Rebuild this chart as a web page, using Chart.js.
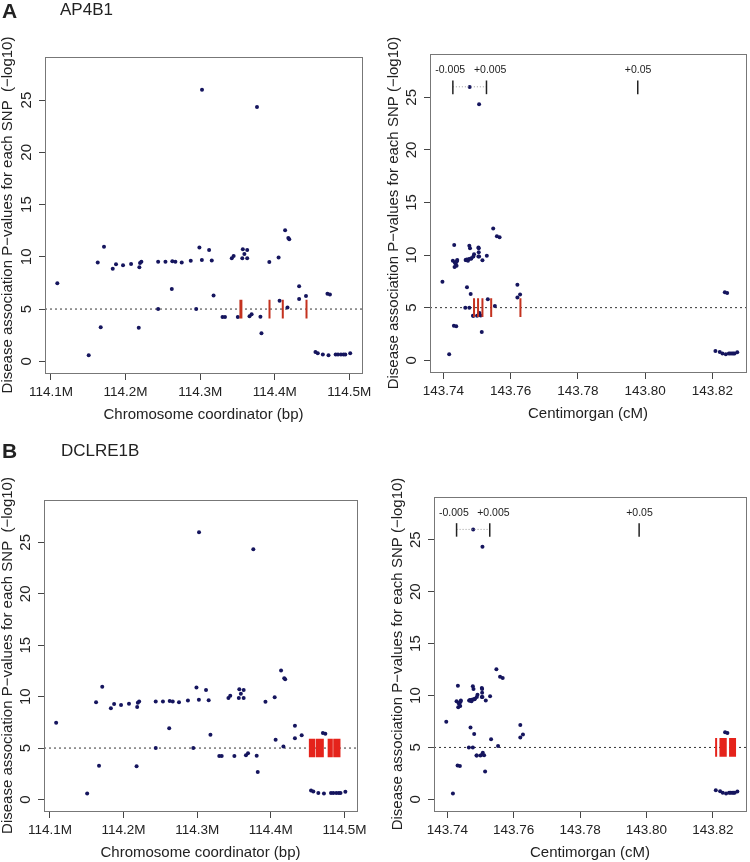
<!DOCTYPE html>
<html>
<head>
<meta charset="utf-8">
<script src="https://cdn.jsdelivr.net/npm/chart.js@4.4.1/dist/chart.umd.min.js"></script>
<style>
  body { margin: 0; background: #fff; width: 750px; height: 862px; position: relative; overflow: hidden;
         font-family: "Liberation Sans", Arial, Helvetica, sans-serif; color: #222; }
  canvas { position: absolute; }
  .tag { position: absolute; font-weight: bold; font-size: 21px; line-height: 1; }
  .gene { position: absolute; font-size: 17px; line-height: 1; }
</style>
</head>
<body>
<canvas id="aLeft"></canvas>
<canvas id="aRight"></canvas>
<canvas id="bLeft"></canvas>
<canvas id="bRight"></canvas>
<div class="tag" style="left:2px;top:0px">A</div>
<div class="gene" style="left:60px;top:1px">AP4B1</div>
<div class="tag" style="left:2px;top:440px">B</div>
<div class="gene" style="left:61px;top:442px">DCLRE1B</div>
<script>
// SNP positions (Mbp), genetic positions (cM) and -log10 P
const bpM = [
  114.1085, 114.1506, 114.1627, 114.1667, 114.1711, 114.1828, 114.1872, 114.1966, 114.2074, 114.2177,
  114.2185, 114.2194, 114.2212, 114.2437, 114.2437, 114.2535, 114.2620, 114.2627, 114.2668, 114.2753,
  114.2874, 114.2947, 114.2990, 114.3025, 114.3023, 114.3120, 114.3156, 114.3180, 114.3300, 114.3333,
  114.3424, 114.3449, 114.3505, 114.3565, 114.3572, 114.3593, 114.3631, 114.3631, 114.3662, 114.3690,
  114.3762, 114.3808, 114.3822, 114.3927, 114.4052, 114.4065, 114.4139, 114.4171, 114.4182, 114.4195,
  114.4327, 114.4327, 114.4419, 114.4546, 114.4577, 114.4645, 114.4707, 114.4740, 114.4721, 114.4817,
  114.4848, 114.4888, 114.4922, 114.4946, 114.5012
];
const cM = [
  143.7397, 143.7417, 143.7428, 143.7431, 143.7432, 143.7433, 143.7434, 143.7436, 143.7437, 143.7438,
  143.7439, 143.7440, 143.7441, 143.7465, 143.7466, 143.7467, 143.7470, 143.7469, 143.7471, 143.7473,
  143.7476, 143.7477, 143.7477, 143.7478, 143.7483, 143.7479, 143.7482, 143.7481, 143.7488, 143.7489,
  143.7489, 143.7491, 143.7500, 143.7504, 143.7504, 143.7505, 143.7506, 143.7505, 143.7505, 143.7507,
  143.7506, 143.7511, 143.7514, 143.7516, 143.7529, 143.7532, 143.7548, 143.7553, 143.7559, 143.7567,
  143.7620, 143.7620, 143.7628, 143.8209, 143.8222, 143.8230, 143.8237, 143.8244, 143.8240, 143.8249,
  143.8253, 143.8258, 143.8262, 143.8266, 143.8274
];
const logP = [
  7.47, 0.57, 9.45, 3.27, 10.95, 8.86, 9.29, 9.18, 9.32, 3.22,
  8.99, 9.41, 9.52, 5.00, 9.52, 9.52, 6.93, 9.57, 9.53, 9.46,
  9.62, 5.00, 10.89, 25.99, 9.70, 10.64, 9.64, 6.29, 4.23, 4.23,
  9.86, 10.08, 4.23, 9.86, 10.72, 10.27, 9.86, 10.64, 4.31, 4.50,
  24.33, 4.26, 2.68, 9.51, 9.94, 5.80, 12.53, 5.15, 11.80, 11.69,
  7.17, 5.96, 6.25, 0.88, 0.78, 0.64, 6.46, 6.39, 0.57, 0.64,
  0.64, 0.64, 0.64, 0.64, 0.76
];

// gene SNP markers (red bars)
const barsA_bp = [114.3540, 114.3553, 114.3930, 114.4108, 114.4426];
const barsA_cM = [143.7491, 143.7503, 143.7516, 143.7542, 143.7629];
const barsB_bp = [
  114.4530, 114.4545, 114.4560, 114.4575, 114.4590, 114.4625, 114.4638,
  114.4665, 114.4680, 114.4695, 114.4706, 114.4785, 114.4800, 114.4815, 114.4828,
  114.4861, 114.4876, 114.4890, 114.4905, 114.4918, 114.4932
];
const barsB_cM = [
  143.8210, 143.8223, 143.8227, 143.8231, 143.8235, 143.8239,
  143.8252, 143.8256, 143.8260, 143.8264, 143.8267
];
const barLow = 4.1;
const barHigh = 5.9;
const threshold = 5;

// axes
const yTicks = [0, 5, 10, 15, 20, 25];
const yRange = [-1.12, 29.12];
const bpTicks = [114.1, 114.2, 114.3, 114.4, 114.5];
const bpRange = [114.092, 114.517];
const cMTicks = [143.74, 143.76, 143.78, 143.80, 143.82];
const cMRange = [143.736, 143.830];

// window marks on the cM panels
const markLabels = ["-0.005", "+0.005", "+0.05"];
const markX = [143.7428, 143.7528, 143.7978];
const markTextX = [143.7420, 143.7539, 143.7979];
const markLow = 25.3, markHigh = 26.6, markTextY = 27.55, markDotY = 26.0;

Chart.defaults.font.family = '"Liberation Sans", Arial, Helvetica, sans-serif';
Chart.defaults.color = "#222";

const boxPlugin = {
  id: "rBox",
  afterDraw(chart) {
    const { ctx, chartArea: a } = chart;
    ctx.save();
    ctx.strokeStyle = "#777";
    ctx.lineWidth = 1;
    ctx.strokeRect(Math.round(a.left) + 0.5, Math.round(a.top) + 0.5,
                   Math.round(a.right - a.left), Math.round(a.bottom - a.top));
    ctx.restore();
  }
};

const marksPlugin = {
  id: "cmMarks",
  afterDatasetsDraw(chart) {
    const { ctx, scales: { x, y } } = chart;
    ctx.save();
    // dotted link between the +-0.005 marks
    ctx.strokeStyle = "#999";
    ctx.lineWidth = 1;
    ctx.setLineDash([1, 2]);
    ctx.beginPath();
    ctx.moveTo(x.getPixelForValue(markX[0]), y.getPixelForValue(markDotY));
    ctx.lineTo(x.getPixelForValue(markX[1]), y.getPixelForValue(markDotY));
    ctx.stroke();
    ctx.setLineDash([]);
    ctx.strokeStyle = "#222";
    ctx.lineWidth = 1.5;
    ctx.fillStyle = "#222";
    ctx.font = '10.5px "Liberation Sans", Arial, sans-serif';
    ctx.textAlign = "center";
    ctx.textBaseline = "middle";
    markLabels.forEach((label, i) => {
      const px = x.getPixelForValue(markX[i]);
      ctx.beginPath();
      ctx.moveTo(px, y.getPixelForValue(markLow));
      ctx.lineTo(px, y.getPixelForValue(markHigh));
      ctx.stroke();
      ctx.fillText(label, x.getPixelForValue(markTextX[i]), y.getPixelForValue(markTextY));
    });
    ctx.restore();
  }
};

const makePanel = (id, p) => {
  const canvas = document.getElementById(id);
  canvas.width = 375;
  canvas.height = p.area.bottom + 51 - p.top;
  canvas.style.left = p.left + "px";
  canvas.style.top = p.top + "px";

  const tickGrid = { display: true, drawOnChartArea: false, drawTicks: true, color: "#444" };

  new Chart(canvas, {
    type: "scatter",
    data: {
      datasets: [
        {
          data: p.bars.flatMap(x => [{ x, y: barLow }, { x, y: barHigh }, { x, y: null }]),
          showLine: true, spanGaps: false, borderColor: p.barColor, borderWidth: 2,
          pointRadius: 0, order: 0
        },
        {
          data: p.xs.map((x, i) => ({ x, y: logP[i] })),
          pointRadius: 2, pointBackgroundColor: "#15155e", pointBorderWidth: 0, order: 1
        },
        {
          data: [{ x: p.xRange[0], y: threshold }, { x: p.xRange[1], y: threshold }],
          showLine: true, borderColor: "#333", borderWidth: 1, borderDash: [2, 3],
          pointRadius: 0, order: 2
        }
      ]
    },
    options: {
      responsive: false,
      animation: false,
      devicePixelRatio: 1,
      layout: { padding: { left: 0, top: p.area.top - p.top, right: p.left + 375 - p.area.right, bottom: 0 } },
      plugins: { legend: { display: false }, tooltip: { enabled: false } },
      scales: {
        x: {
          type: "linear", min: p.xRange[0], max: p.xRange[1],
          afterBuildTicks: ax => { ax.ticks = p.xTicks.map(v => ({ value: v })); },
          afterFit: ax => { ax.height = 51; ax.paddingLeft = 0; ax.paddingRight = 0; },
          ticks: { callback: p.fmt, font: { size: 13.5 }, padding: 4, maxRotation: 0, autoSkip: false },
          grid: { ...tickGrid, tickLength: 7 },
          border: { display: true, color: "#777" },
          title: { display: true, text: p.xTitle, font: { size: 15 }, padding: 0 }
        },
        y: {
          type: "linear", min: yRange[0], max: yRange[1],
          afterBuildTicks: ax => { ax.ticks = yTicks.map(v => ({ value: v })); },
          afterFit: ax => { ax.width = p.area.left - p.left; ax.paddingTop = 0; ax.paddingBottom = 0; },
          ticks: { minRotation: 90, maxRotation: 90, crossAlign: "center", font: { size: 15 }, padding: 4, autoSkip: false },
          grid: { ...tickGrid, tickLength: 6 },
          border: { display: true, color: "#777" },
          title: { display: true, text: p.yTitle, font: { size: 15, lineHeight: 1 }, padding: { top: p.yTitlePad, bottom: 0 } }
        }
      }
    },
    plugins: p.marks ? [boxPlugin, marksPlugin] : [boxPlugin]
  });
};

const yTitleBp = "Disease association P\u2212values for each SNP  (\u2212log10)";
const yTitleCm = "Disease association P\u2212values for each SNP (\u2212log10)";
const fmtBp = v => v.toFixed(1) + "M";
const fmtCm = v => v.toFixed(2);

makePanel("aLeft", {
  left: 0, top: 0, area: { left: 45, top: 57, right: 362, bottom: 373 },
  xs: bpM, xRange: bpRange, xTicks: bpTicks, fmt: fmtBp, bars: barsA_bp, barColor: "#c4321f",
  xTitle: "Chromosome coordinator (bp)", yTitle: yTitleBp, yTitlePad: 0.5, marks: false
});
makePanel("aRight", {
  left: 375, top: 0, area: { left: 430, top: 54, right: 747, bottom: 372 },
  xs: cM, xRange: cMRange, xTicks: cMTicks, fmt: fmtCm, bars: barsA_cM, barColor: "#c4321f",
  xTitle: "Centimorgan (cM)", yTitle: yTitleCm, yTitlePad: 11.5, marks: true
});
makePanel("bLeft", {
  left: 0, top: 431, area: { left: 44, top: 500, right: 357, bottom: 811 },
  xs: bpM, xRange: bpRange, xTicks: bpTicks, fmt: fmtBp, bars: barsB_bp, barColor: "#e5231b",
  xTitle: "Chromosome coordinator (bp)", yTitle: yTitleBp, yTitlePad: 0.5, marks: false
});
makePanel("bRight", {
  left: 375, top: 431, area: { left: 434, top: 497, right: 748, bottom: 811 },
  xs: cM, xRange: cMRange, xTicks: cMTicks, fmt: fmtCm, bars: barsB_cM, barColor: "#e5231b",
  xTitle: "Centimorgan (cM)", yTitle: yTitleCm, yTitlePad: 15.5, marks: true
});
</script>
</body>
</html>
